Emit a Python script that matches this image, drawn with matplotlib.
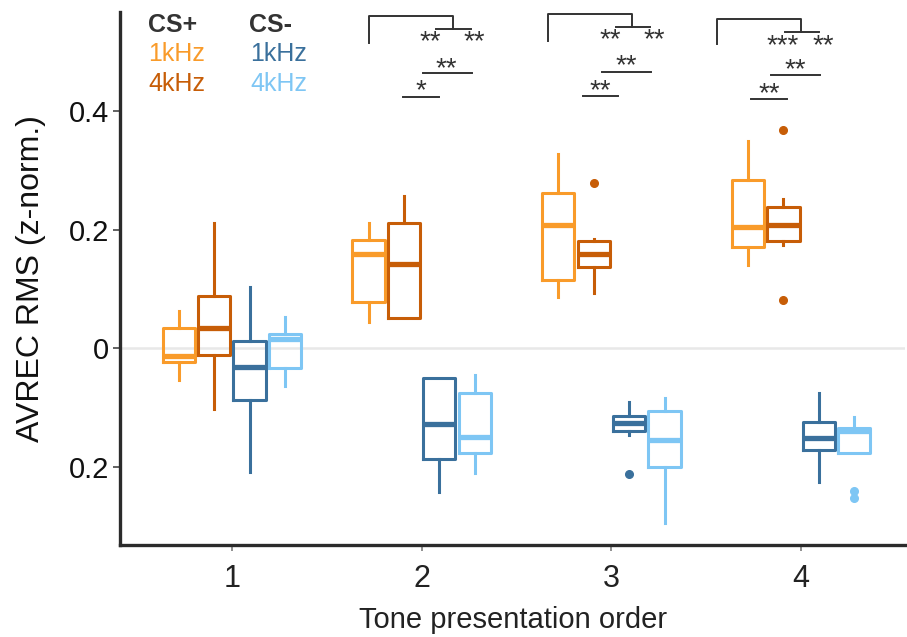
import matplotlib.pyplot as plt

plt.rcParams['font.family'] = ['Liberation Sans', 'DejaVu Sans']
narrow = ['Liberation Sans Narrow', 'Liberation Sans', 'DejaVu Sans']

# tone presentation order
orders = [1, 2, 3, 4]
groups = ["CS+ 1kHz", "CS+ 4kHz", "CS- 1kHz", "CS- 4kHz"]

# box statistics, one list per group (index = order)
cs_plus_1k_whislo = [-0.054, 0.044, 0.086, 0.140]
cs_plus_1k_q1 = [-0.024, 0.078, 0.115, 0.170]
cs_plus_1k_med = [-0.014, 0.159, 0.207, 0.204]
cs_plus_1k_q3 = [0.034, 0.182, 0.262, 0.284]
cs_plus_1k_whishi = [0.062, 0.211, 0.327, 0.349]
cs_plus_1k_fliers = [[], [], [], []]

cs_plus_4k_whislo = [-0.103, 0.050, 0.093, 0.174]
cs_plus_4k_q1 = [-0.012, 0.051, 0.137, 0.181]
cs_plus_4k_med = [0.034, 0.142, 0.159, 0.208]
cs_plus_4k_q3 = [0.088, 0.211, 0.181, 0.238]
cs_plus_4k_whishi = [0.211, 0.257, 0.184, 0.251]
cs_plus_4k_fliers = [[], [], [0.278], [0.368, 0.081]]

cs_minus_1k_whislo = [-0.209, -0.243, -0.147, -0.226]
cs_minus_1k_q1 = [-0.088, -0.187, -0.140, -0.172]
cs_minus_1k_med = [-0.032, -0.128, -0.127, -0.152]
cs_minus_1k_q3 = [0.012, -0.051, -0.115, -0.125]
cs_minus_1k_whishi = [0.103, -0.051, -0.091, -0.076]
cs_minus_1k_fliers = [[], [], [-0.213], []]

cs_minus_4k_whislo = [-0.064, -0.211, -0.296, -0.177]
cs_minus_4k_q1 = [-0.034, -0.177, -0.201, -0.177]
cs_minus_4k_med = [0.015, -0.150, -0.155, -0.140]
cs_minus_4k_q3 = [0.024, -0.076, -0.106, -0.135]
cs_minus_4k_whishi = [0.052, -0.046, -0.084, -0.117]
cs_minus_4k_fliers = [[], [], [], [-0.241, -0.253]]

series = [
    (cs_plus_1k_whislo, cs_plus_1k_q1, cs_plus_1k_med, cs_plus_1k_q3, cs_plus_1k_whishi, cs_plus_1k_fliers),
    (cs_plus_4k_whislo, cs_plus_4k_q1, cs_plus_4k_med, cs_plus_4k_q3, cs_plus_4k_whishi, cs_plus_4k_fliers),
    (cs_minus_1k_whislo, cs_minus_1k_q1, cs_minus_1k_med, cs_minus_1k_q3, cs_minus_1k_whishi, cs_minus_1k_fliers),
    (cs_minus_4k_whislo, cs_minus_4k_q1, cs_minus_4k_med, cs_minus_4k_q3, cs_minus_4k_whishi, cs_minus_4k_fliers),
]
colors = ["#F99B2A", "#C75D07", "#3A709C", "#7EC6F4"]
offsets = [-0.28, -0.093, 0.093, 0.28]

# significance marks: (x0, x1, y, label, label_x, label_y)
sig_lines = [
    (1.90, 2.089, 0.424, "*", 1.995, 0.433),
    (2.005, 2.263, 0.464, "**", 2.132, 0.471),
    (2.853, 3.037, 0.425, "**", 2.942, 0.434),
    (2.953, 3.21, 0.466, "**", 3.079, 0.475),
    (3.737, 3.926, 0.420, "**", 3.832, 0.429),
    (3.842, 4.10, 0.461, "**", 3.968, 0.469),
]
# brackets: (x_left, y_left_bottom, y_top, x_drop, y_drop, sub_x0, sub_x1, star_labels, star_y)
brackets = [
    (1.721, 0.515, 0.560, 2.163, 0.538, 2.074, 2.258, [(2.047, "**"), (2.279, "**")], 0.517),
    (2.668, 0.518, 0.564, 3.110, 0.542, 3.026, 3.205, [(2.995, "**"), (3.226, "**")], 0.519),
    (3.558, 0.513, 0.555, 4.000, 0.533, 3.916, 4.095, [(3.905, "***"), (4.116, "**")], 0.510),
]

fig = plt.figure(figsize=(9.07, 6.37), dpi=100)
ax = fig.add_axes([0.1323, 0.1444, 0.866, 0.8366])

ax.axhline(0, color="#e8e8e8", lw=1.8, zorder=0)

for (wlo, q1, med, q3, whi, fl), col, off in zip(series, colors, offsets):
    stats = []
    for i in range(len(orders)):
        stats.append({"whislo": wlo[i], "q1": q1[i], "med": med[i], "q3": q3[i],
                      "whishi": whi[i], "fliers": fl[i]})
    ax.bxp(stats, positions=[o + off for o in orders], widths=0.17,
           showcaps=False, showfliers=True, patch_artist=False,
           boxprops=dict(color=col, lw=2.2),
           whiskerprops=dict(color=col, lw=2.2),
           medianprops=dict(color=col, lw=3.8, solid_capstyle="butt"),
           flierprops=dict(marker="o", markerfacecolor=col, markeredgecolor=col,
                           markersize=5.5))

ink = "#333333"
for x0, x1, y, lab, lx, ly in sig_lines:
    ax.plot([x0, x1], [y, y], color=ink, lw=1.4, clip_on=False)
    ax.text(lx, ly, lab, ha="center", va="center", fontsize=20, color=ink)

for xl, ylb, yt, xd, yd, sx0, sx1, labs, sy in brackets:
    ax.plot([xl, xl, xd, xd], [ylb, yt, yt, yd], color=ink, lw=1.4, clip_on=False)
    ax.plot([sx0, sx1], [yd, yd], color=ink, lw=1.4, clip_on=False)
    for lx, lab in labs:
        ax.text(lx, sy, lab, ha="center", va="center", fontsize=20, color=ink)

ax.set_xlim(0.41, 4.55)
ax.set_ylim(-0.3325, 0.567)
ax.set_xticks(orders)
ax.set_xticklabels([str(o) for o in orders], family=narrow)
ax.set_yticks([0.4, 0.2, 0, -0.2])
ax.set_yticklabels(["0.4", "0.2", "0", "0.2"])
ax.tick_params(axis="y", labelsize=21, length=5, width=1.3, color="#555555", labelcolor="#111111", pad=3)
ax.tick_params(axis="x", labelsize=22, length=4, width=1.3, color="#888888", labelcolor="#222222", pad=10)

for side in ["top", "right"]:
    ax.spines[side].set_visible(False)
for side in ["left", "bottom"]:
    ax.spines[side].set_linewidth(2.4)
    ax.spines[side].set_color("#2b2b2b")

ax.set_ylabel("AVREC RMS (z-norm.)", fontsize=23, color="#111111", labelpad=16)
ax.set_xlabel("Tone presentation order", fontsize=21, color="#222222", labelpad=8, family=narrow)

# legend text block at top left
fig.text(148 / 907, 1 - 32 / 637, "CS+", fontsize=18, fontweight="bold", color=ink)
fig.text(148 / 907, 1 - 61 / 637, "1kHz", fontsize=18, color=colors[0])
fig.text(148 / 907, 1 - 91 / 637, "4kHz", fontsize=18, color=colors[1])
fig.text(249 / 907, 1 - 32 / 637, "CS-", fontsize=18, fontweight="bold", color=ink)
fig.text(250 / 907, 1 - 61 / 637, "1kHz", fontsize=18, color=colors[2])
fig.text(250 / 907, 1 - 91 / 637, "4kHz", fontsize=18, color=colors[3])

fig.savefig("out.png", dpi=100)
